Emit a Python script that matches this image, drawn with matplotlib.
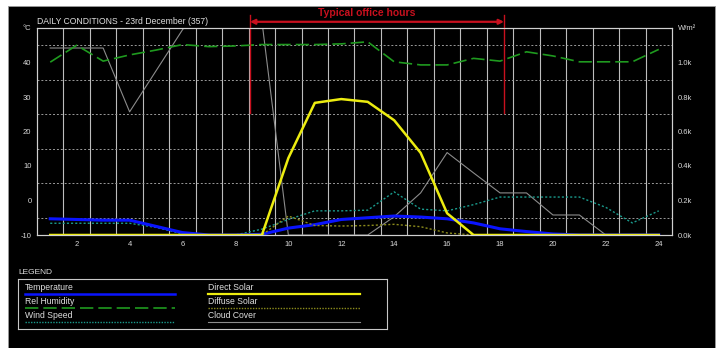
import numpy as np
import matplotlib
matplotlib.use('Agg')
import matplotlib.pyplot as plt
from matplotlib.patches import Rectangle
from matplotlib.lines import Line2D

plt.rcParams['font.family'] = ['Liberation Sans', 'DejaVu Sans']
plt.rcParams['axes.unicode_minus'] = False

hours = list(range(1, 25))
# left axis (degC / % / m/s)
temperature = [-5.3, -5.5, -5.7, -5.7, -7.5, -9.3, -10, -10, -9.8, -8.0, -7.0, -5.5,
               -5.0, -4.5, -4.8, -5.3, -6.5, -8.2, -9.0, -9.7, -10, -10, -10, -10]
rel_humidity = [40.1, 45.0, 40.4, 42.2, 43.6, 45.2, 44.6, 44.8, 45.2, 45.2, 45.2, 45.4,
                46.0, 40.2, 39.3, 39.3, 41.2, 40.4, 43.1, 41.9, 40.2, 40.2, 40.2, 43.8]
wind_speed = [-6.6, -6.6, -6.6, -6.6, -7.8, -9.7, -10, -10, -8.3, -5.5, -3.0, -3.0,
              -2.8, 2.5, -2.5, -3.0, -1.2, 1.0, 1.0, 1.0, 1.0, -2.0, -6.5, -3.0]
cloud_cover = [44.2, 44.2, 44.2, 25.7, 37.6, 49.5, 60, 60, 52, -10, -10, -10,
               -10, -4.7, 2.2, 13.9, 8.0, 2.2, 2.2, -4.2, -4.2, -10, -10, -10]
# right axis (W/m2)
direct_solar = [0, 0, 0, 0, 0, 0, 0, 0, 0, 446, 766, 788,
                772, 665, 476, 126, 0, 0, 0, 0, 0, 0, 0, 0]
diffuse_solar = [0, 0, 0, 0, 0, 0, 0, 0, 0, 110, 55, 52,
                 55, 62, 48, 12, 0, 0, 0, 0, 0, 0, 0, 0]

left_ticks = [-10, 0, 10, 20, 30, 40]
right_ticks = [0, 200, 400, 600, 800, 1000]
right_labels = ['0.0k', '0.2k', '0.4k', '0.6k', '0.8k', '1.0k']
x_ticks = list(range(2, 25, 2))
office_start, office_end = 8.55, 18.15

W, H = 720, 348
fig = plt.figure(figsize=(7.2, 3.48), dpi=100, facecolor='white')
fig.patches.append(Rectangle((8 / W, 0), (715 - 8) / W, (H - 6) / H,
                             transform=fig.transFigure, facecolor='black',
                             edgecolor='#9a9a9a', lw=0.6, zorder=-10))

ax = fig.add_axes([37 / W, (H - 235) / H, (672 - 37) / W, (235 - 28) / H])
ax.set_facecolor('black')
ax2 = ax.twinx()

c_tick = '#d8d8d8'
ax.set_xlim(0.5, 24.5)
ax.set_ylim(-10, 50)
ax2.set_ylim(0, 1200)
ax.set_xticks(x_ticks)
ax.set_xticks(np.arange(1.5, 24, 1), minor=True)
ax.set_yticks(left_ticks)
ax.set_yticks(np.arange(-5, 50, 5), minor=True)
ax2.set_yticks(right_ticks)
ax2.set_yticklabels(right_labels)
for a in (ax, ax2):
    a.tick_params(which='both', length=0, colors=c_tick, labelsize=5.5, pad=4)
    for s in a.spines.values():
        s.set_color('#d0d0d0')
        s.set_linewidth(0.8)
ax.grid(True, which='minor', axis='x', color='#bdbdbd', lw=0.8, ls='-')
ax.grid(True, which='minor', axis='y', color='#9a9a9a', lw=0.7, ls=(0, (2, 2)))
ax.set_axisbelow(True)

ax.plot(hours, cloud_cover, color='#8c8c8c', lw=0.8)
ax.plot(hours, rel_humidity, color='#1f9a1f', lw=1.2, ls=(0, (8, 3)))
ax.plot(hours, wind_speed, color='#1a9a8c', lw=1.0, ls=(0, (1.5, 1.5)))
ax.plot(hours, temperature, color='#0a14ff', lw=2.2)
ax2.plot(hours, diffuse_solar, color='#8c8c1c', lw=1.0, ls=(0, (1.5, 1.5)))
ax2.plot(hours, direct_solar, color='#ecec10', lw=1.8)

ax.text(0, 1.012, 'DAILY CONDITIONS - 23rd December (357)', transform=ax.transAxes,
        color='#e0e0e0', fontsize=6.2, va='bottom', ha='left')
fig.text(27 / W, (H - 28) / H, '°C', color=c_tick, fontsize=5.5, ha='center', va='center')
fig.text(678 / W, (H - 28) / H, 'W/m²', color=c_tick, fontsize=5.5, ha='left', va='center')

# office hours annotation
red = '#c8101e'
for xo in (office_start, office_end):
    ax.plot([xo, xo], [25.4, 53.8], color=red, lw=1.0, clip_on=False, zorder=5)
ax.annotate('', xy=(office_start, 51.8), xytext=(office_end, 51.8),
            arrowprops=dict(arrowstyle='<|-|>', color=red, lw=1.6,
                            mutation_scale=7, shrinkA=0, shrinkB=0),
            annotation_clip=False)
fig.text(367 / W, (H - 13) / H, 'Typical office hours', color=red, fontsize=7.5,
         fontweight='bold', ha='center', va='center')

# legend block
fig.text(18 / W, (H - 272) / H, 'LEGEND', color='#e0e0e0', fontsize=6, va='center')
lg = fig.add_axes([18 / W, (H - 329) / H, 369 / W, 50 / H])
lg.set_facecolor('black')
lg.set_xlim(0, 1)
lg.set_ylim(0, 1)
lg.set_xticks([])
lg.set_yticks([])
for s in lg.spines.values():
    s.set_color('#c8c8c8')
    s.set_linewidth(0.8)
entries = [
    ('Temperature', dict(color='#0a14ff', lw=1.8), 0.019, 0.425, 0.82, 0.71),
    ('Rel Humidity', dict(color='#1f9a1f', lw=1.2, ls=(0, (8, 3))), 0.019, 0.425, 0.54, 0.43),
    ('Wind Speed', dict(color='#1a9a8c', lw=1.0, ls=(0, (1, 1))), 0.019, 0.425, 0.26, 0.14),
    ('Direct Solar', dict(color='#ecec10', lw=1.6), 0.515, 0.927, 0.82, 0.71),
    ('Diffuse Solar', dict(color='#8c8c1c', lw=1.0, ls=(0, (1, 1))), 0.515, 0.927, 0.54, 0.43),
    ('Cloud Cover', dict(color='#8c8c8c', lw=0.8), 0.515, 0.927, 0.26, 0.14),
]
for label, style, x0, x1, ty, ly in entries:
    lg.text(x0, ty, label, color='#e0e0e0', fontsize=6.2, va='center', ha='left')
    lg.add_line(Line2D([x0, x1], [ly, ly], **style))

fig.savefig('out.png', dpi=100, facecolor='white')
